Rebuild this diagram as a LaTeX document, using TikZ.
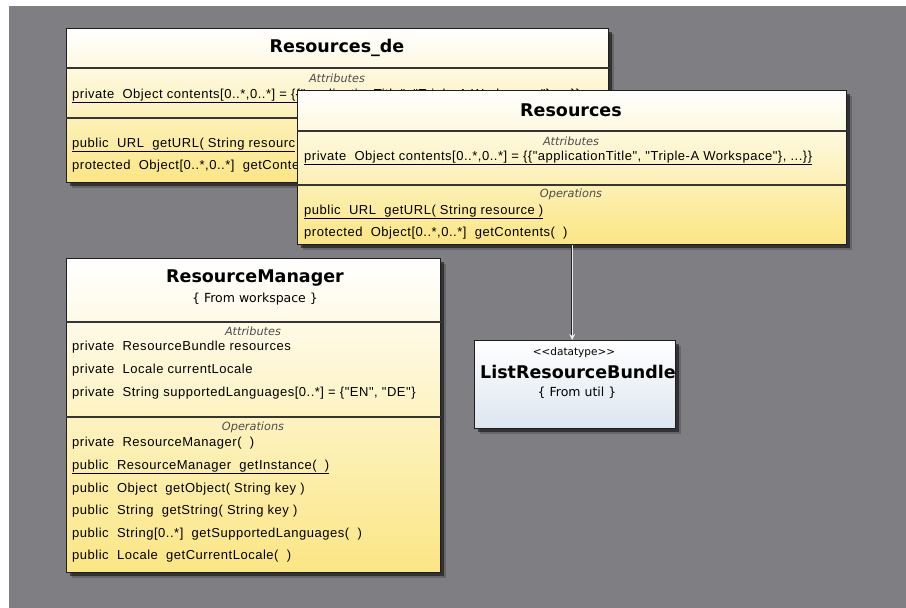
\documentclass[tikz,border=0pt]{standalone}
\usepackage{fontspec}
\setmainfont{Liberation Sans}
\newfontfamily\titlefont{DejaVu Sans}
\newfontfamily\memberfont[LetterSpace=4]{Liberation Sans}
\usetikzlibrary{shadows,arrows.meta}

\definecolor{canvasgray}{HTML}{7F7E83}
\definecolor{umlyellow}{HTML}{FBE684}
\definecolor{umlblue}{HTML}{DCE5F0}
\definecolor{boxline}{HTML}{1E1E1E}

\tikzset{
  boxshadow/.style={
    drop shadow={shadow xshift=5pt, shadow yshift=-5pt, fill=black, opacity=.2},
    drop shadow={shadow xshift=3pt, shadow yshift=-3pt, fill=black, opacity=.5}},
  classbox/.style={draw=boxline, line width=1.4pt, anchor=north west, inner sep=0pt,
    top color=white, bottom color=umlyellow, boxshadow},
  typebox/.style={classbox, bottom color=umlblue},
  compsep/.style={draw=boxline!90, line width=1.2pt},
  classname/.style={inner sep=0pt, font=\titlefont\bfseries\fontsize{17.5}{19}\selectfont},
  origin/.style={inner sep=0pt, font=\titlefont\fontsize{12.5}{14}\selectfont},
  stereo/.style={inner sep=0pt, font=\titlefont\fontsize{10.5}{12}\selectfont},
  section/.style={inner sep=0pt, text=black!70, font=\titlefont\itshape\fontsize{11.3}{13}\selectfont},
  member/.style={anchor=base west, inner sep=0pt, font=\memberfont\fontsize{13}{15}\selectfont},
  dependency/.style={draw=black!85, line width=2pt},
  dependencylight/.style={draw=white!85!gray, line width=.8pt,
    -{Stealth[open, length=6pt, width=6pt, fill=white]}},
}

\begin{document}
\begin{tikzpicture}[x=1pt, y=-1pt]
  % canvas
  \fill[white] (0,0) rectangle (906,608);
  \useasboundingbox (0,0) rectangle (906,608);
  \fill[canvasgray] (9,6) rectangle (906,608);

  % ---------- Resources_de (partly covered by Resources) ----------
  \node[classbox, minimum width=542pt, minimum height=154pt] (rde) at (66,28) {};
  \draw[compsep] (rde.west |- 0,68) -- (rde.east |- 0,68);
  \draw[compsep] (rde.west |- 0,118) -- (rde.east |- 0,118);
  \node[classname] (rdeName) at (337,48) {Resources\_de};
  \node[section] (rdeAttr) at (337,78) {Attributes};
  \node[member] (rdeA1) at (72,98) {\underline{private~~Object contents[0..*,0..*] = \{\{"applicationTitle", "Triple-A Workspace"\}, ...\}\}}};
  \begin{scope}
    \clip (66,120) rectangle (297,182);
    \node[member] (rdeO1) at (72,147) {\underline{public~~URL~~getURL(~String resourc}};
    \node[member] (rdeO2) at (72,169) {protected~~Object[0..*,0..*]~~getConte};
  \end{scope}

  % ---------- Resources ----------
  \node[classbox, minimum width=549pt, minimum height=154pt] (res) at (297,90) {};
  \draw[compsep] (res.west |- 0,131) -- (res.east |- 0,131);
  \draw[compsep] (res.west |- 0,185) -- (res.east |- 0,185);
  \node[classname] (resName) at (571,110) {Resources};
  \node[section] (resAttr) at (571,141) {Attributes};
  \node[member] (resA1) at (304,160) {\underline{private~~Object contents[0..*,0..*] = \{\{"applicationTitle", "Triple-A Workspace"\}, ...\}\}}};
  \node[section] (resOps) at (571,194) {Operations};
  \node[member] (resO1) at (304,214) {\underline{public~~URL~~getURL(~String resource~)}};
  \node[member] (resO2) at (304,236) {protected~~Object[0..*,0..*]~~getContents(~~)};

  % ---------- ResourceManager ----------
  \node[classbox, minimum width=374pt, minimum height=314pt] (rm) at (66,258) {};
  \draw[compsep] (rm.west |- 0,322) -- (rm.east |- 0,322);
  \draw[compsep] (rm.west |- 0,417) -- (rm.east |- 0,417);
  \node[classname] (rmName) at (255,278) {ResourceManager};
  \node[origin] (rmFrom) at (255,299) {\{ From workspace \}};
  \node[section] (rmAttr) at (253,331) {Attributes};
  \node[member] (rmA1) at (72,350) {private~~ResourceBundle resources};
  \node[member] (rmA2) at (72,373) {private~~Locale currentLocale};
  \node[member] (rmA3) at (72,396) {private~~String supportedLanguages[0..*] = \{"EN", "DE"\}};
  \node[section] (rmOps) at (253,427) {Operations};
  \node[member] (rmO1) at (72,446) {private~~ResourceManager(~~)};
  \node[member] (rmO2) at (72,469) {\underline{public~~ResourceManager~~getInstance(~~)}};
  \node[member] (rmO3) at (72,492) {public~~Object~~getObject(~String key~)};
  \node[member] (rmO4) at (72,514) {public~~String~~getString(~String key~)};
  \node[member] (rmO5) at (72,537) {public~~String[0..*]~~getSupportedLanguages(~~)};
  \node[member] (rmO6) at (72,559) {public~~Locale~~getCurrentLocale(~~)};

  % ---------- ListResourceBundle ----------
  \node[typebox, minimum width=201pt, minimum height=88pt] (lrb) at (474,340) {};
  \node[stereo] (lrbStereo) at (574,353) {<{}<datatype>{}>};
  \node[classname] (lrbName) at (578,372) {ListResourceBundle};
  \node[origin] (lrbFrom) at (577,393) {\{ From util \}};

  % ---------- dependency ----------
  \draw[dependency] (res.south) -- ([yshift=4pt]res.south |- lrb.north);
  \draw[dependencylight] (res.south) -- (res.south |- lrb.north);
\end{tikzpicture}
\end{document}
